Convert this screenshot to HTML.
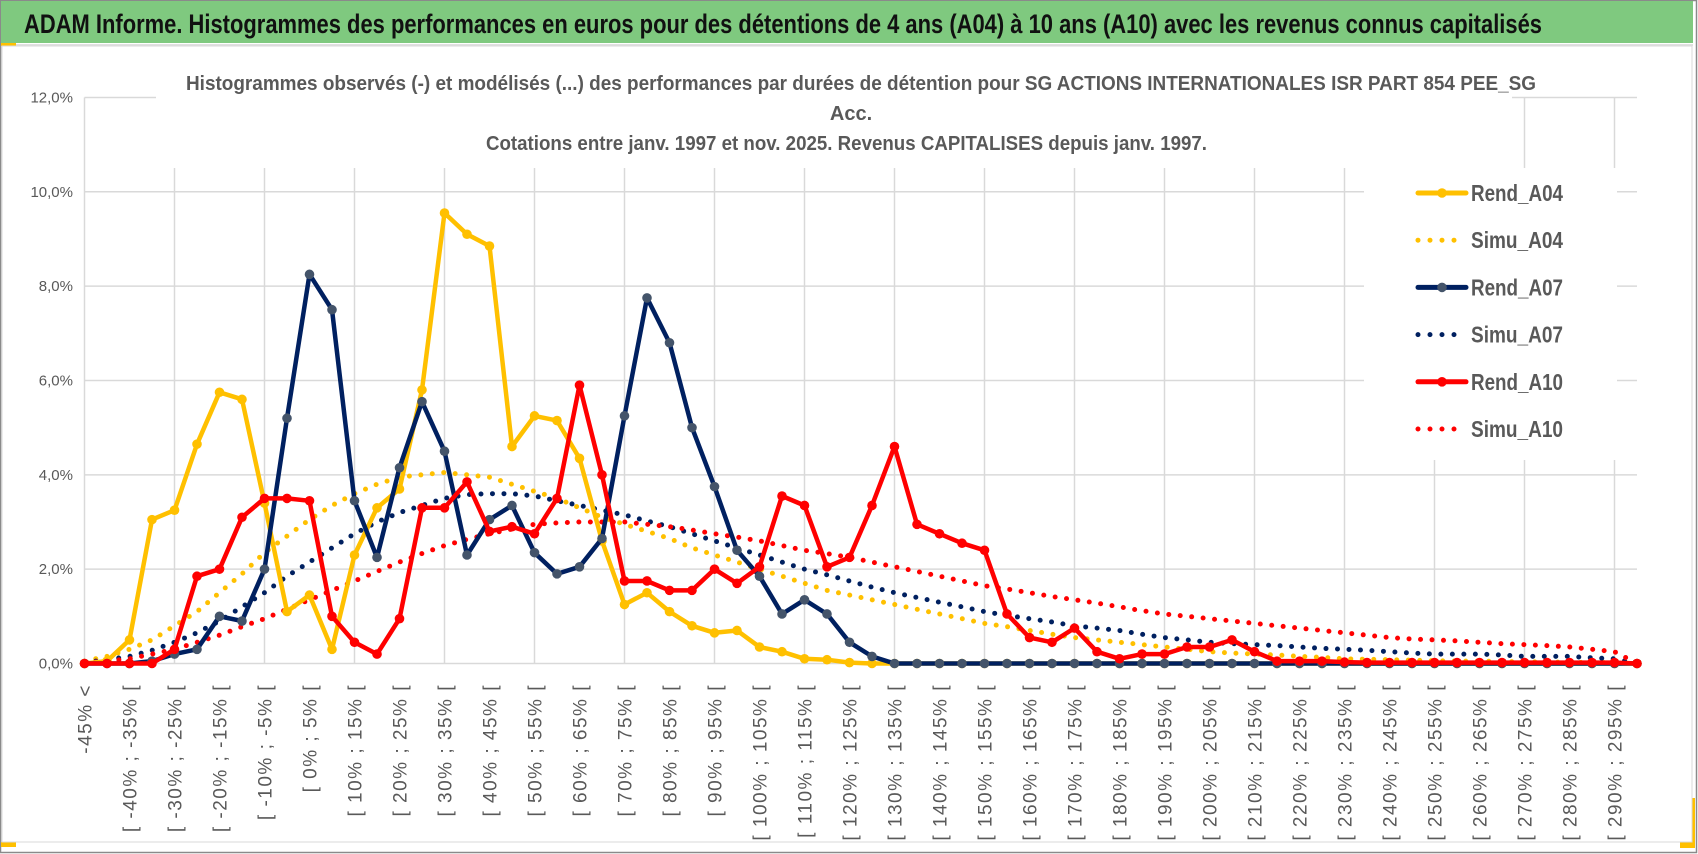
<!DOCTYPE html>
<html><head><meta charset="utf-8"><style>
html,body{margin:0;padding:0;background:#fff;}
svg{display:block;font-family:"Liberation Sans Narrow","Liberation Sans",sans-serif;}
</style></head><body>
<svg id="chart" width="1698" height="854" viewBox="0 0 1698 854" xmlns="http://www.w3.org/2000/svg">
<rect x="0" y="0" width="1698" height="854" fill="#fff"/>
<rect x="0.5" y="0.5" width="1696" height="852" fill="none" stroke="#8a8a8a" stroke-width="1.5"/>
<rect x="1" y="1" width="1692" height="42" fill="#7fc97f"/>
<line x1="1" y1="45" x2="1693" y2="45" stroke="#e0e0e0" stroke-width="2"/>
<rect x="1" y="43" width="15" height="3" fill="#ffc000"/>
<rect x="1" y="842" width="15" height="5" fill="#ffc000"/>
<rect x="1680" y="798" width="15" height="50" fill="#ffc000"/>
<rect x="2" y="46" width="1690" height="796" fill="#fff" stroke="#d9d9d9" stroke-width="1"/>
<text x="24" y="33" font-size="27" font-weight="bold" fill="#111" textLength="1518" lengthAdjust="spacingAndGlyphs">ADAM Informe. Histogrammes des performances en euros pour des détentions de 4 ans (A04) à 10 ans (A10) avec les revenus connus capitalisés</text>
<g id="grid"></g>
<rect x="156" y="68" width="1356" height="100" fill="#fff"/>
<rect x="1364" y="168" width="253" height="292" fill="#fff"/>
<text x="186" y="90" font-size="20" font-weight="bold" fill="#595959" textLength="1350" lengthAdjust="spacingAndGlyphs">Histogrammes observés (-) et modélisés (...) des performances par durées de détention pour SG ACTIONS INTERNATIONALES  ISR PART 854 PEE_SG</text>
<text x="851" y="120" font-size="20" font-weight="bold" fill="#595959" text-anchor="middle">Acc.</text>
<text x="486" y="150" font-size="20" font-weight="bold" fill="#595959" textLength="721" lengthAdjust="spacingAndGlyphs">Cotations entre janv. 1997 et nov. 2025. Revenus CAPITALISES depuis janv. 1997.</text>
<g id="yaxis"></g>
<g id="xaxis"></g>
<g id="series"></g>
<g id="legend"></g>
</svg>
<script>
const yTicks = [0, 2, 4, 6, 8, 10, 12];
const yTickLabels = ["0,0%", "2,0%", "4,0%", "6,0%", "8,0%", "10,0%", "12,0%"];
const rendA04 = [0,0.05,0.5,3.05,3.25,4.65,5.75,5.6,3.4,1.1,1.45,0.3,2.3,3.3,3.7,5.8,9.55,9.1,8.85,4.6,5.25,5.15,4.35,2.6,1.25,1.5,1.1,0.8,0.65,0.7,0.35,0.25,0.1,0.08,0.02,0,0,0,0,0,0,0,0,0,0,0,0,0,0,0,0,0,0,0,0,0,0,0,0,0,0,0,0,0,0,0,0,0,0,0];
const rendA07 = [0,0,0,0.05,0.2,0.3,1.0,0.9,2.0,5.2,8.25,7.5,3.45,2.25,4.15,5.55,4.5,2.3,3.05,3.35,2.35,1.9,2.05,2.65,5.25,7.75,6.8,5.0,3.75,2.4,1.85,1.05,1.35,1.05,0.45,0.15,0,0,0,0,0,0,0,0,0,0,0,0,0,0,0,0,0,0,0,0,0,0,0,0,0,0,0,0,0,0,0,0,0,0];
const rendA10 = [0,0,0,0,0.3,1.85,2.0,3.1,3.5,3.5,3.45,1.0,0.45,0.2,0.95,3.3,3.3,3.85,2.8,2.9,2.75,3.5,5.9,4.0,1.75,1.75,1.55,1.55,2.0,1.7,2.05,3.55,3.35,2.05,2.25,3.35,4.6,2.95,2.75,2.55,2.4,1.05,0.55,0.45,0.75,0.25,0.1,0.2,0.2,0.35,0.35,0.5,0.25,0.05,0.05,0.05,0.03,0.02,0.02,0.02,0.02,0.02,0.02,0.02,0.02,0.02,0.02,0.02,0.02,0];
const simuA04 = [0.05,0.15,0.3,0.5,0.8,1.1,1.5,1.9,2.35,2.7,3.05,3.35,3.6,3.8,3.95,4.0,4.05,4.0,3.95,3.8,3.65,3.5,3.3,3.1,2.95,2.8,2.65,2.45,2.3,2.15,2.0,1.85,1.7,1.55,1.45,1.35,1.25,1.15,1.05,0.95,0.85,0.78,0.7,0.62,0.55,0.5,0.45,0.4,0.35,0.3,0.25,0.22,0.2,0.18,0.15,0.13,0.1,0.09,0.08,0.07,0.06,0.05,0.05,0.04,0.04,0.03,0.03,0.02,0.02,0];
const simuA07 = [0.02,0.08,0.15,0.28,0.45,0.65,0.9,1.2,1.5,1.85,2.15,2.45,2.75,3.0,3.2,3.35,3.5,3.58,3.6,3.6,3.55,3.45,3.35,3.25,3.15,3.02,2.9,2.75,2.6,2.45,2.3,2.15,2.0,1.88,1.75,1.62,1.5,1.4,1.3,1.2,1.1,1.02,0.95,0.88,0.8,0.75,0.7,0.62,0.55,0.5,0.45,0.42,0.4,0.38,0.35,0.32,0.3,0.28,0.25,0.22,0.2,0.2,0.2,0.18,0.15,0.15,0.15,0.12,0.1,0];
const simuA10 = [0.02,0.05,0.1,0.2,0.3,0.45,0.6,0.78,0.95,1.15,1.35,1.55,1.75,1.95,2.15,2.33,2.5,2.63,2.75,2.85,2.95,2.98,3.0,3.0,3.0,2.95,2.9,2.83,2.75,2.68,2.6,2.5,2.4,2.33,2.25,2.15,2.05,1.95,1.85,1.75,1.65,1.58,1.5,1.42,1.35,1.28,1.2,1.12,1.05,1.0,0.95,0.9,0.85,0.8,0.75,0.7,0.65,0.6,0.55,0.52,0.5,0.48,0.45,0.42,0.4,0.38,0.35,0.3,0.25,0];
const categories = ["-45% <"];
for (let k = 1; k < 70; k++) { categories.push("[ " + (-50 + 5 * k) + "% ; " + (-45 + 5 * k) + "% ["); }

const NS = "http://www.w3.org/2000/svg";
const X0 = 84.5, STEP = 22.5, Y0 = 663.5, PER = 47.17;
function xScale(i) { return X0 + i * STEP; }
function yScale(v) { return Y0 - v * PER; }
function mk(tag, attrs, parent) {
  const e = document.createElementNS(NS, tag);
  for (const k in attrs) e.setAttribute(k, attrs[k]);
  parent.appendChild(e);
  return e;
}
const grid = document.getElementById('grid');
const xEnd = xScale(categories.length - 1);
yTicks.forEach((t, j) => {
  const l = mk('line', {x1: X0, x2: xEnd, y1: yScale(t), y2: yScale(t), stroke: '#d9d9d9', 'stroke-width': 1.5}, grid);
  
  
});
for (let i = 0; i < categories.length; i += 4) {
  const l = mk('line', {x1: xScale(i), x2: xScale(i), y1: yScale(12), y2: Y0, stroke: '#d9d9d9', 'stroke-width': 1.5}, grid);
  
  
}
const yaxis = document.getElementById('yaxis');
yTicks.forEach((t, j) => {
  const tx = mk('text', {x: 73, y: yScale(t) + 5, 'font-size': 15, fill: '#595959', 'text-anchor': 'end'}, yaxis);
  tx.textContent = yTickLabels[j];
  
  
});
const xaxis = document.getElementById('xaxis');
for (let i = 0; i < categories.length; i += 2) {
  const x = xScale(i) + 7, y = 684;
  const tx = mk('text', {x: x, y: y, 'font-size': 19, 'letter-spacing': 1.5, fill: '#595959', 'text-anchor': 'end', transform: 'rotate(-90 ' + x + ' ' + y + ')', 'font-family': '"Liberation Sans", sans-serif'}, xaxis);
  tx.textContent = categories[i];
  
  
}
const series = document.getElementById('series');
function pts(arr) { return arr.map((v, i) => xScale(i).toFixed(1) + ',' + yScale(v).toFixed(1)).join(' '); }
function dotted(arr, color, name) {
  const p = mk('polyline', {points: pts(arr), fill: 'none', stroke: color, 'stroke-width': 5, 'stroke-linecap': 'round', 'stroke-dasharray': '0 11.5'}, series);
  
  
}
function solid(arr, color, mcolor, name) {
  const g = mk('g', {}, series);
  
  
  const p = mk('polyline', {points: pts(arr), fill: 'none', stroke: color, 'stroke-width': 4.5, 'stroke-linejoin': 'round'}, g);
  
  
  arr.forEach((v, i) => {
    const c = mk('circle', {cx: xScale(i), cy: yScale(v), r: 4.8, fill: mcolor}, g);
    
    
  });
}
dotted(simuA04, '#ffc000', 'simu-a04-line');
dotted(simuA07, '#002060', 'simu-a07-line');
dotted(simuA10, '#ff0000', 'simu-a10-line');
solid(rendA04, '#ffc000', '#ffc000', 'rend-a04');
solid(rendA07, '#002060', '#44546a', 'rend-a07');
solid(rendA10, '#ff0000', '#ff0000', 'rend-a10');

const legend = document.getElementById('legend');
const legendNames = ["Rend_A04", "Simu_A04", "Rend_A07", "Simu_A07", "Rend_A10", "Simu_A10"];
const legendColors = ['#ffc000', '#ffc000', '#002060', '#002060', '#ff0000', '#ff0000'];
const legendMarker = ['#ffc000', null, '#44546a', null, '#ff0000', null];
legendNames.forEach((n, j) => {
  const y = 193 + j * 47.2;
  const g = mk('g', {}, legend);
  
  
  if (legendMarker[j]) {
    mk('line', {x1: 1418, x2: 1466, y1: y, y2: y, stroke: legendColors[j], 'stroke-width': 5, 'stroke-linecap': 'round'}, g);
    mk('circle', {cx: 1442, cy: y, r: 4.8, fill: legendMarker[j]}, g);
  } else {
    mk('line', {x1: 1418, x2: 1466, y1: y, y2: y, stroke: legendColors[j], 'stroke-width': 5, 'stroke-linecap': 'round', 'stroke-dasharray': '0 12'}, g);
  }
  const t = mk('text', {x: 1471, y: y + 8, 'font-size': 23, 'font-weight': 'bold', fill: '#595959', textLength: 92, lengthAdjust: 'spacingAndGlyphs'}, g);
  t.textContent = n;
});
</script>
</body></html>
